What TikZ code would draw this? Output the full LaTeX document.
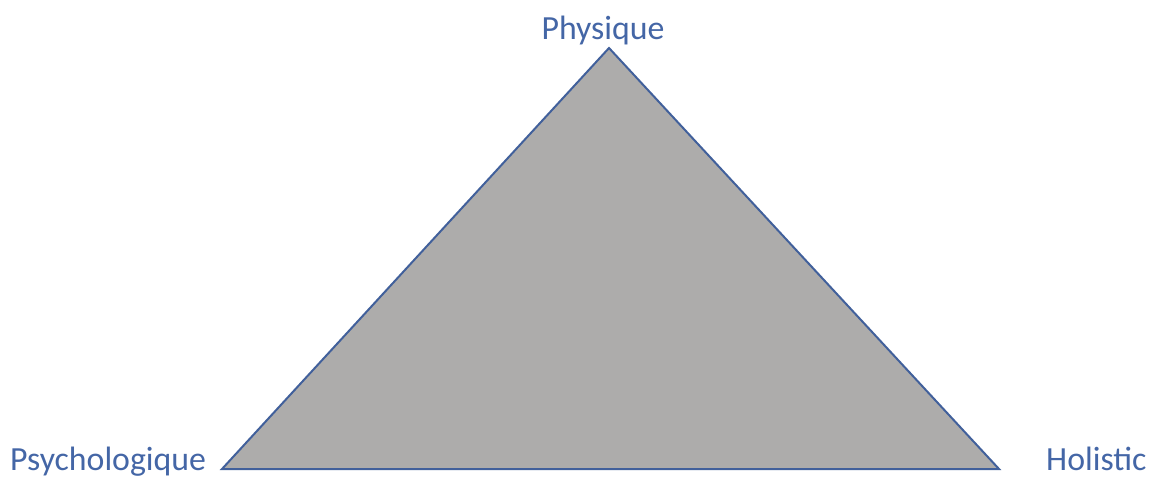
\documentclass[tikz,border=0pt]{standalone}
\usepackage{fontspec}
\setmainfont{Carlito}
\usetikzlibrary{positioning}
\definecolor{edgeblue}{HTML}{41609B}
\definecolor{labelblue}{HTML}{4466A6}
\definecolor{coregray}{HTML}{ADACAB}

\begin{document}
\begin{tikzpicture}[x=1pt,y=-1pt,
  corner/.style={font=\fontsize{33.8}{40}\selectfont,text=labelblue,inner sep=0pt,anchor=base},
  wedge/.style={draw=edgeblue,fill=coregray,line width=2pt,line join=miter}
]
\useasboundingbox (0,0) rectangle (1155,478);
\coordinate (top) at (609,48);
\coordinate (left) at (222,469);
\coordinate (right) at (999,469);
\filldraw[wedge] (top) -- (left) -- (right) -- cycle;
\node[corner] (phys) at (603,40) {Physique};
\node[corner,anchor=base west] (psy) at (10,470) {Psychologique};
\node[corner,anchor=base west] (hol) at (1046,470) {Holistic};
\end{tikzpicture}
\end{document}
